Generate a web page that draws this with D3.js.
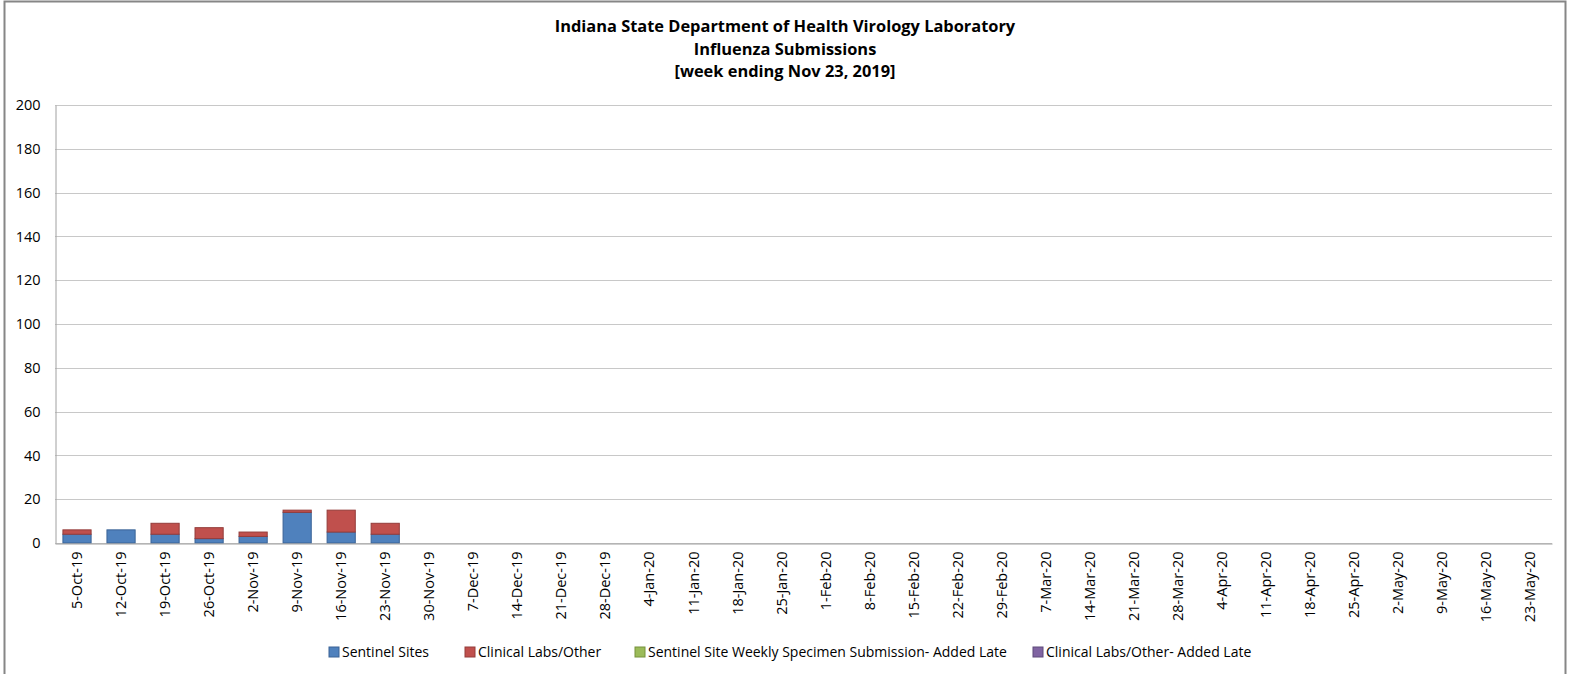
<!DOCTYPE html>
<html>
<head>
<meta charset="utf-8">
<script src="https://cdn.jsdelivr.net/npm/d3@7"></script>
<style>
  body { margin: 0; background: #fff; }
  svg { display: block; font-family: "Open Sans", Lato, sans-serif; }
</style>
</head>
<body>
<svg width="1571" height="674"></svg>
<script>
// weeks of the 2019-20 season
const weeks = ["5-Oct-19","12-Oct-19","19-Oct-19","26-Oct-19","2-Nov-19","9-Nov-19","16-Nov-19","23-Nov-19",
  "30-Nov-19","7-Dec-19","14-Dec-19","21-Dec-19","28-Dec-19","4-Jan-20","11-Jan-20","18-Jan-20","25-Jan-20",
  "1-Feb-20","8-Feb-20","15-Feb-20","22-Feb-20","29-Feb-20","7-Mar-20","14-Mar-20","21-Mar-20","28-Mar-20",
  "4-Apr-20","11-Apr-20","18-Apr-20","25-Apr-20","2-May-20","9-May-20","16-May-20","23-May-20"];

const sentinel = [4, 6, 4, 2, 3, 14, 5, 4];
const clinical = [2, 0, 5, 5, 2, 1, 10, 5];
const sentinelLate = [0, 0, 0, 0, 0, 0, 0, 0];
const clinicalLate = [0, 0, 0, 0, 0, 0, 0, 0];

const seriesNames = ["Sentinel Sites", "Clinical Labs/Other",
  "Sentinel Site Weekly Specimen Submission- Added Late", "Clinical Labs/Other- Added Late"];
const colors = ["#4f81bd", "#c0504d", "#9bbb59", "#8064a2"];
const strokes = ["#3a6396", "#943c3a", "#76923c", "#5f4a7b"];
const yTicks = [0, 20, 40, 60, 80, 100, 120, 140, 160, 180, 200];

const svg = d3.select("svg");
const margin = { left: 55, right: 19, top: 105, bottom: 131 };
const width = 1571, height = 674;

// outer frame
svg.append("path")
  .attr("d", "M4.5,690 V1.5 H1565.5 V690")
  .attr("fill", "none")
  .attr("stroke", "#868686")
  .attr("stroke-width", 2);

const table = weeks.map((w, i) => ({
  week: w,
  s0: sentinel[i] || 0,
  s1: clinical[i] || 0,
  s2: sentinelLate[i] || 0,
  s3: clinicalLate[i] || 0
}));
const stack = d3.stack().keys(["s0", "s1", "s2", "s3"])(table);

const x = d3.scaleBand()
  .domain(weeks)
  .range([margin.left, width - margin.right])
  .paddingInner(0.36)
  .paddingOuter(0.18);

const y = d3.scaleLinear()
  .domain([0, 200])
  .range([height - margin.bottom, margin.top]);

// gridlines
svg.append("g")
  .selectAll("line")
  .data(yTicks)
  .join("line")
  .attr("x1", margin.left)
  .attr("x2", width - margin.right)
  .attr("y1", d => Math.round(y(d)) + 0.5)
  .attr("y2", d => Math.round(y(d)) + 0.5)
  .attr("stroke", "#c8c8c8");

// y axis
const yAxis = svg.append("g")
  .attr("transform", `translate(${margin.left + 0.5},0)`)
  .call(d3.axisLeft(y).tickValues(yTicks).tickSize(0).tickPadding(15));
yAxis.select(".domain").attr("stroke", "#a0a0a0");
yAxis.selectAll("text").attr("font-size", 14.5).attr("fill", "#000")
  .attr("font-family", "'Open Sans', sans-serif");

// bars
svg.append("g")
  .selectAll("g")
  .data(stack)
  .join("g")
  .attr("fill", (d, i) => colors[i])
  .attr("stroke", (d, i) => strokes[i])
  .selectAll("rect")
  .data(d => d.filter(p => p[1] - p[0] > 0))
  .join("rect")
  .attr("x", d => x(d.data.week))
  .attr("width", x.bandwidth())
  .attr("y", d => y(d[1]))
  .attr("height", d => y(d[0]) - y(d[1]))
  .attr("stroke-width", 1);

// x axis
const xAxis = svg.append("g")
  .attr("transform", `translate(0,${Math.round(y(0)) + 0.5})`)
  .call(d3.axisBottom(x).tickSize(0).tickPadding(0));
xAxis.select(".domain").attr("stroke", "#a0a0a0");
xAxis.selectAll("text")
  .attr("font-size", 14.5)
  .attr("fill", "#000")
  .attr("font-family", "'Open Sans', sans-serif")
  .attr("text-anchor", "end")
  .attr("dy", "0.35em")
  .attr("transform", "translate(0,8) rotate(-90)");

// title
const title = ["Indiana State Department of Health Virology Laboratory",
  "Influenza Submissions", "[week ending Nov 23, 2019]"];
svg.append("g")
  .selectAll("text")
  .data(title)
  .join("text")
  .attr("x", 785)
  .attr("y", (d, i) => 32 + i * 22.5)
  .attr("text-anchor", "middle")
  .attr("font-size", 16.4)
  .attr("font-weight", "bold")
  .attr("fill", "#000")
  .text(d => d);

// legend
const legendX = [329, 465, 635, 1033];
const legend = svg.append("g")
  .selectAll("g")
  .data(seriesNames)
  .join("g")
  .attr("transform", (d, i) => `translate(${legendX[i]},652)`);
legend.append("rect")
  .attr("x", 0).attr("y", -5)
  .attr("width", 10).attr("height", 10)
  .attr("fill", (d, i) => colors[i])
  .attr("stroke", (d, i) => strokes[i]);
legend.append("text")
  .attr("x", 13)
  .attr("dy", "0.35em")
  .attr("font-size", 14)
  .attr("fill", "#000")
  .text(d => d);
</script>
</body>
</html>
